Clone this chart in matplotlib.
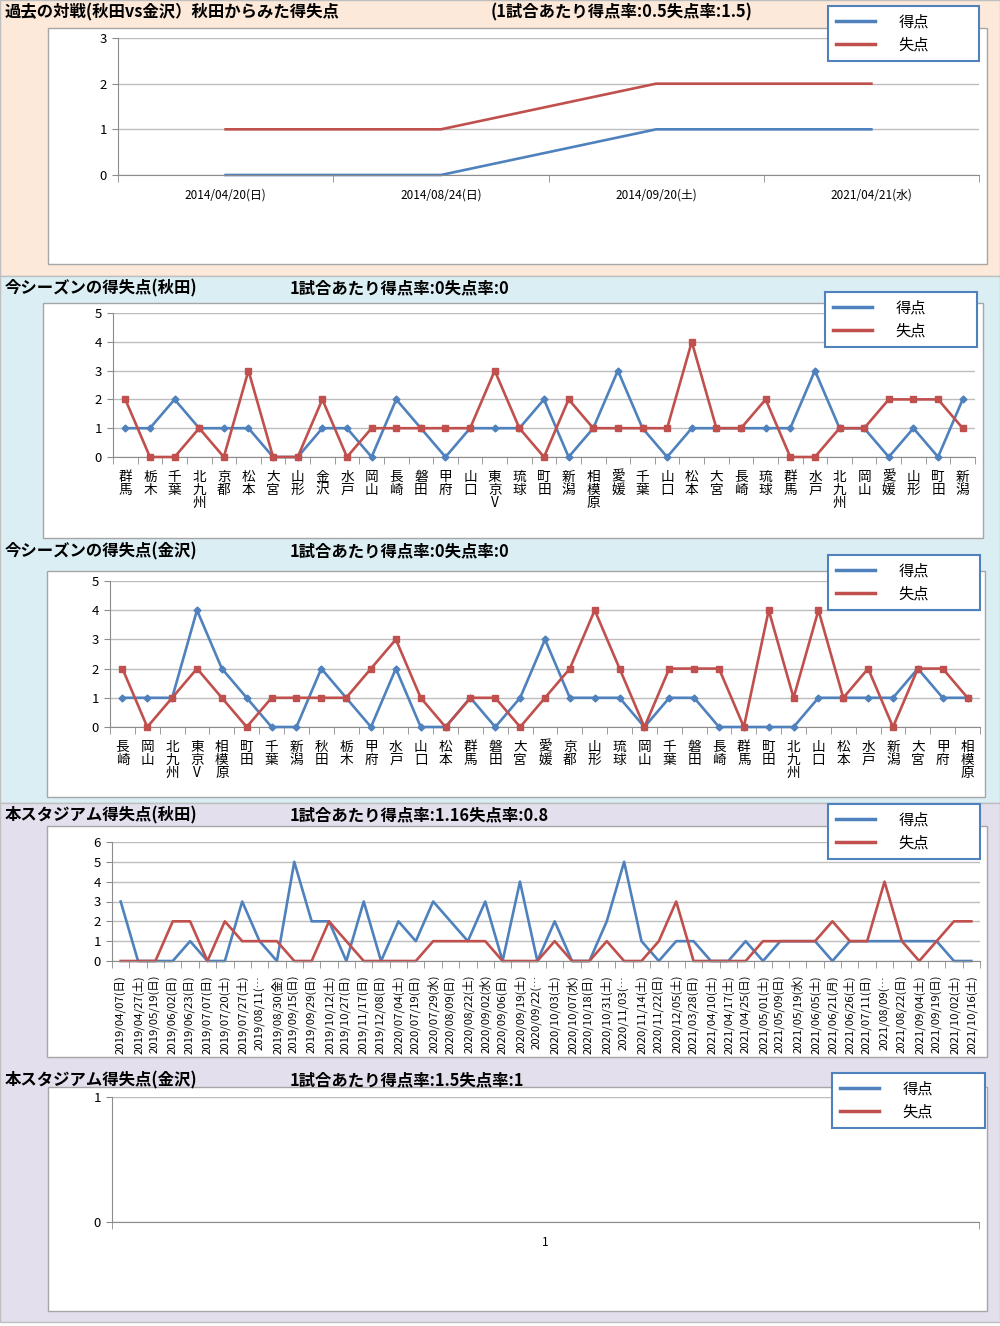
import matplotlib.pyplot as plt
from matplotlib.patches import Rectangle
from matplotlib.lines import Line2D

plt.rcParams['font.family'] = ['Noto Sans CJK JP', 'DejaVu Sans']

W, H = 1000, 1326
BLUE = '#4F81BD'
RED = '#C0504D'

# 過去の対戦
past_dates = ['2014/04/20(日)', '2014/08/24(日)', '2014/09/20(土)', '2021/04/21(水)']
past_for = [0, 0, 1, 1]
past_against = [1, 1, 2, 2]

# 今シーズン(秋田)
akita_opp = ['群馬', '栃木', '千葉', '北九州', '京都', '松本', '大宮', '山形', '金沢', '水戸',
             '岡山', '長崎', '磐田', '甲府', '山口', '東京V', '琉球', '町田', '新潟', '相模原',
             '愛媛', '千葉', '山口', '松本', '大宮', '長崎', '琉球', '群馬', '水戸', '北九州',
             '岡山', '愛媛', '山形', '町田', '新潟']
akita_for = [1, 1, 2, 1, 1, 1, 0, 0, 1, 1, 0, 2, 1, 0, 1, 1, 1, 2, 0, 1,
             3, 1, 0, 1, 1, 1, 1, 1, 3, 1, 1, 0, 1, 0, 2]
akita_against = [2, 0, 0, 1, 0, 3, 0, 0, 2, 0, 1, 1, 1, 1, 1, 3, 1, 0, 2, 1,
                 1, 1, 1, 4, 1, 1, 2, 0, 0, 1, 1, 2, 2, 2, 1]

# 今シーズン(金沢)
kanazawa_opp = ['長崎', '岡山', '北九州', '東京V', '相模原', '町田', '千葉', '新潟', '秋田', '栃木',
                '甲府', '水戸', '山口', '松本', '群馬', '磐田', '大宮', '愛媛', '京都', '山形',
                '琉球', '岡山', '千葉', '磐田', '長崎', '群馬', '町田', '北九州', '山口', '松本',
                '水戸', '新潟', '大宮', '甲府', '相模原']
kanazawa_for = [1, 1, 1, 4, 2, 1, 0, 0, 2, 1, 0, 2, 0, 0, 1, 0, 1, 3, 1, 1,
                1, 0, 1, 1, 0, 0, 0, 0, 1, 1, 1, 1, 2, 1, 1]
kanazawa_against = [2, 0, 1, 2, 1, 0, 1, 1, 1, 1, 2, 3, 1, 0, 1, 1, 0, 1, 2, 4,
                    2, 0, 2, 2, 2, 0, 4, 1, 4, 1, 2, 0, 2, 2, 1]

# 本スタジアム(秋田)
home_dates = ['2019/04/07(日)', '2019/04/27(土)', '2019/05/19(日)', '2019/06/02(日)', '2019/06/23(日)',
              '2019/07/07(日)', '2019/07/20(土)', '2019/07/27(土)', '2019/08/11(…', '2019/08/30(金)',
              '2019/09/15(日)', '2019/09/29(日)', '2019/10/12(土)', '2019/10/27(日)', '2019/11/17(日)',
              '2019/12/08(日)', '2020/07/04(土)', '2020/07/19(日)', '2020/07/29(水)', '2020/08/09(日)',
              '2020/08/22(土)', '2020/09/02(水)', '2020/09/06(日)', '2020/09/19(土)', '2020/09/22(…',
              '2020/10/03(土)', '2020/10/07(水)', '2020/10/18(日)', '2020/10/31(土)', '2020/11/03(…',
              '2020/11/14(土)', '2020/11/22(日)', '2020/12/05(土)', '2021/03/28(日)', '2021/04/10(土)',
              '2021/04/17(土)', '2021/04/25(日)', '2021/05/01(土)', '2021/05/09(日)', '2021/05/19(水)',
              '2021/06/05(土)', '2021/06/21(月)', '2021/06/26(土)', '2021/07/11(日)', '2021/08/09(…',
              '2021/08/22(日)', '2021/09/04(土)', '2021/09/19(日)', '2021/10/02(土)', '2021/10/16(土)']
home_for = [3, 0, 0, 0, 1, 0, 0, 3, 1, 0, 5, 2, 2, 0, 3, 0, 2, 1, 3, 2,
            1, 3, 0, 4, 0, 2, 0, 0, 2, 5, 1, 0, 1, 1, 0, 0, 1, 0, 1, 1,
            1, 0, 1, 1, 1, 1, 1, 1, 0, 0]
home_against = [0, 0, 0, 2, 2, 0, 2, 1, 1, 1, 0, 0, 2, 1, 0, 0, 0, 0, 1, 1,
                1, 1, 0, 0, 0, 1, 0, 0, 1, 0, 0, 1, 3, 0, 0, 0, 0, 1, 1, 1,
                1, 2, 1, 1, 4, 1, 0, 1, 2, 2]

# 本スタジアム(金沢)
kz_home_labels = ['1']

fig = plt.figure(figsize=(W / 100, H / 100), dpi=100)


def rect(l, t, r, b, fc, ec, lw=1.0, z=-5):
    fig.add_artist(Rectangle((l / W, 1 - b / H), (r - l) / W, (b - t) / H,
                             transform=fig.transFigure, facecolor=fc,
                             edgecolor=ec, linewidth=lw, zorder=z))


def add_ax(l, t, r, b):
    ax = fig.add_axes([l / W, 1 - b / H, (r - l) / W, (b - t) / H])
    ax.patch.set_visible(False)
    return ax


def style(ax, n, ymax):
    ax.set_xlim(-0.5, n - 0.5)
    ax.set_ylim(0, ymax)
    ax.set_yticks(range(ymax + 1))
    ax.grid(axis='y', color='#BDBDBD', lw=1)
    ax.set_axisbelow(True)
    for s in ['top', 'right']:
        ax.spines[s].set_visible(False)
    for s in ['left', 'bottom']:
        ax.spines[s].set_color('#8C8C8C')
    ax.set_xticks([i - 0.5 for i in range(n + 1)], minor=True)
    ax.tick_params(axis='x', which='major', length=0)
    ax.tick_params(axis='x', which='minor', length=5, color='#8C8C8C')
    ax.tick_params(axis='y', length=4, color='#8C8C8C', labelsize=9.5, pad=4)


def legend(l, t, r, b):
    h = [Line2D([], [], color=BLUE, lw=2.5), Line2D([], [], color=RED, lw=2.5)]
    lg = fig.legend(h, ['得点', '失点'], loc='upper left',
                    bbox_to_anchor=(l / W, 1 - b / H, (r - l) / W, (b - t) / H),
                    mode='expand', fontsize=11, frameon=True, fancybox=False,
                    framealpha=1, edgecolor=BLUE, handlelength=2.6,
                    handletextpad=1.5, labelspacing=0.4, borderpad=0.5,
                    borderaxespad=0)
    lg.get_frame().set_linewidth(1.5)


def title(y, left, right, x2=290, size=11.8):
    fig.text(5 / W, 1 - y / H, left, fontsize=size, weight='bold', va='center')
    fig.text(x2 / W, 1 - y / H, right, fontsize=size, weight='bold', va='center')


# 背景
rect(0, 0, 1000, 276, '#FDE9D9', '#BFBFBF', z=-10)
rect(0, 276, 1000, 803, '#DAEEF3', '#BFBFBF', z=-10)
rect(0, 803, 1000, 1322, '#E4DFEC', '#BFBFBF', z=-10)

# 1. 過去の対戦
rect(48, 28, 987, 264, 'white', '#A6A6A6')
ax = add_ax(118, 38, 979, 175)
style(ax, len(past_dates), 3)
x = range(len(past_dates))
ax.plot(x, past_for, color=BLUE, lw=1.9, clip_on=False)
ax.plot(x, past_against, color=RED, lw=1.9, clip_on=False)
ax.set_xticks(list(x))
ax.set_xticklabels(past_dates, fontsize=8.5)
ax.tick_params(axis='x', pad=10)
title(12, '過去の対戦(秋田vs金沢）秋田からみた得失点', '(1試合あたり得点率:0.5失点率:1.5)', x2=491, size=11.8)
legend(828, 6, 979, 58)

# 2. 今シーズン(秋田)
rect(43, 303, 983, 538, 'white', '#A6A6A6')
ax = add_ax(113, 313, 975, 457)
style(ax, len(akita_opp), 5)
x = range(len(akita_opp))
ax.plot(x, akita_for, color=BLUE, lw=1.9, marker='D', ms=3.5, clip_on=False, zorder=3)
ax.plot(x, akita_against, color=RED, lw=1.9, marker='s', ms=5, clip_on=False, zorder=4)
ax.set_xticks(list(x))
ax.set_xticklabels(['\n'.join(s) for s in akita_opp], fontsize=9.8, va='top', linespacing=0.92)
ax.tick_params(axis='x', pad=9)
title(288, '今シーズンの得失点(秋田)', '1試合あたり得点率:0失点率:0')
legend(825, 292, 977, 343)

# 3. 今シーズン(金沢)
rect(47, 571, 985, 797, 'white', '#A6A6A6')
ax = add_ax(110, 581, 980, 727)
style(ax, len(kanazawa_opp), 5)
x = range(len(kanazawa_opp))
ax.plot(x, kanazawa_for, color=BLUE, lw=1.9, marker='D', ms=3.5, clip_on=False, zorder=3)
ax.plot(x, kanazawa_against, color=RED, lw=1.9, marker='s', ms=5, clip_on=False, zorder=4)
ax.set_xticks(list(x))
ax.set_xticklabels(['\n'.join(s) for s in kanazawa_opp], fontsize=9.8, va='top', linespacing=0.92)
ax.tick_params(axis='x', pad=9)
title(551, '今シーズンの得失点(金沢)', '1試合あたり得点率:0失点率:0')
legend(828, 555, 980, 607)

# 4. 本スタジアム(秋田)
rect(47, 826, 987, 1057, 'white', '#A6A6A6')
ax = add_ax(112, 842, 980, 961)
style(ax, len(home_dates), 6)
x = range(len(home_dates))
ax.plot(x, home_for, color=BLUE, lw=1.9, clip_on=False)
ax.plot(x, home_against, color=RED, lw=1.9, clip_on=False)
ax.set_xticks(list(x))
ax.set_xticklabels(home_dates, fontsize=8.2, rotation=90, va='top')
ax.tick_params(axis='x', pad=10)
title(815, '本スタジアム得失点(秋田)', '1試合あたり得点率:1.16失点率:0.8')
legend(828, 804, 980, 856)

# 5. 本スタジアム(金沢)
rect(48, 1087, 987, 1311, 'white', '#A6A6A6')
ax = add_ax(112, 1097, 979, 1222)
style(ax, len(kz_home_labels), 1)
ax.set_xticks(range(len(kz_home_labels)))
ax.set_xticklabels(kz_home_labels, fontsize=8.5)
ax.tick_params(axis='x', pad=10)
title(1080, '本スタジアム得失点(金沢)', '1試合あたり得点率:1.5失点率:1')
legend(832, 1073, 985, 1126)

fig.savefig('out.png', dpi=100)
